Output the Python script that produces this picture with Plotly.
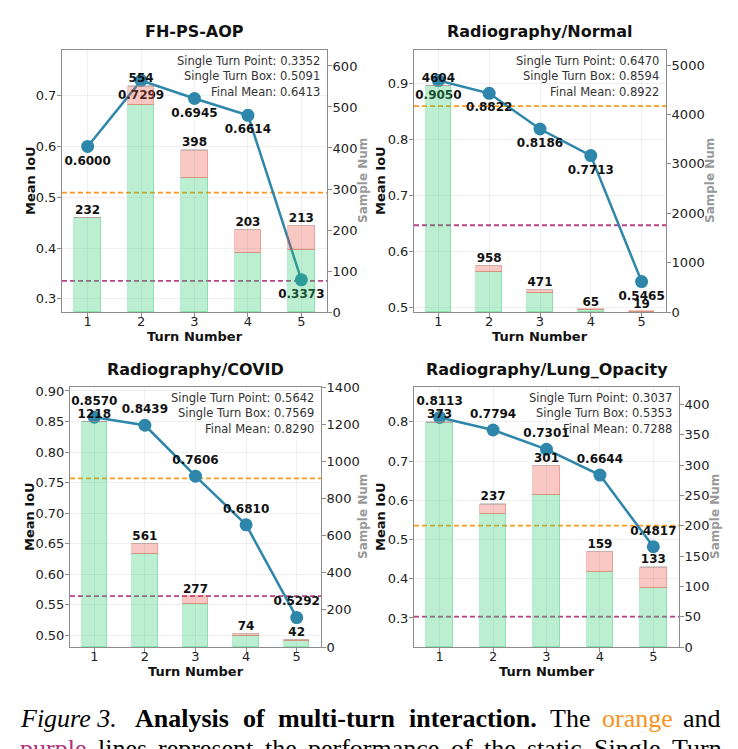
import plotly.graph_objects as go

W, H = 738, 749
turns = [1, 2, 3, 4, 5]

titles = ["FH-PS-AOP", "Radiography/Normal", "Radiography/COVID", "Radiography/Lung_Opacity"]

# Mean IoU per turn
fh_iou = [0.6000, 0.7299, 0.6945, 0.6614, 0.3373]
normal_iou = [0.9050, 0.8822, 0.8186, 0.7713, 0.5465]
covid_iou = [0.8570, 0.8439, 0.7606, 0.6810, 0.5292]
lung_iou = [0.8113, 0.7794, 0.7301, 0.6644, 0.4817]

# Sample numbers per turn (total), with green / pink portions
fh_total = [232, 554, 398, 203, 213]
fh_green = [229, 504, 328, 143, 151]
fh_pink = [0, 44, 64, 57, 59]

normal_total = [4604, 958, 471, 65, 19]
normal_green = [4570, 811, 392, 45, 5]
normal_pink = [0, 120, 60, 10, 8]

covid_total = [1218, 561, 277, 74, 42]
covid_green = [1212, 499, 231, 59, 30]
covid_pink = [0, 54, 42, 10, 8]

lung_total = [373, 237, 301, 159, 133]
lung_green = [370, 220, 251, 123, 98]
lung_pink = [0, 14, 47, 34, 32]

# Reference lines / summary
single_point = [0.3352, 0.6470, 0.5642, 0.3037]
single_box = [0.5091, 0.8594, 0.7569, 0.5353]
final_mean = [0.6413, 0.8922, 0.8290, 0.7288]

left_ticks = [
    [0.3, 0.4, 0.5, 0.6, 0.7],
    [0.5, 0.6, 0.7, 0.8, 0.9],
    [0.50, 0.55, 0.60, 0.65, 0.70, 0.75, 0.80, 0.85, 0.90],
    [0.3, 0.4, 0.5, 0.6, 0.7, 0.8],
]
left_fmt = [".1f", ".1f", ".2f", ".1f"]
right_ticks = [
    [0, 100, 200, 300, 400, 500, 600],
    [0, 1000, 2000, 3000, 4000, 5000],
    [0, 200, 400, 600, 800, 1000, 1200, 1400],
    [0, 50, 100, 150, 200, 250, 300, 350, 400],
]
label_pos = ["bottom center", "bottom center", "top center", "top center"]

# caption words (text, style)
caption_line1 = [("Figure 3.", "i"), ("Analysis", "b"), ("of", "b"), ("multi-turn", "b"),
                 ("interaction.", "b"), ("The", "n"), ("orange", "orange"), ("and", "n")]
caption_line2 = [("purple", "purple"), ("lines", "n"), ("represent", "n"), ("the", "n"),
                 ("performance", "n"), ("of", "n"), ("the", "n"), ("static", "n"),
                 ("Single", "n"), ("Turn", "n")]

ious = [fh_iou, normal_iou, covid_iou, lung_iou]
totals = [fh_total, normal_total, covid_total, lung_total]
greens = [fh_green, normal_green, covid_green, lung_green]
pinks = [fh_pink, normal_pink, covid_pink, lung_pink]

# layout geometry (pixels)
boxes = [(62, 327, 50, 312), (414, 666, 50, 312), (70, 321, 387, 647), (414, 679, 387, 647)]
left_ranges = [[0.274, 0.790], [0.4923, 0.9595], [0.481, 0.9065], [0.226, 0.889]]
right_ranges = [[0, 639], [0, 5304], [0, 1400], [0, 429]]
ylabel_x = [30, 380, 29, 380]
y2label_x = [363, 710, 363, 715]
cap1_x = [18, 133, 241, 276, 407, 548, 600, 681]
cap2_x = [18, 96, 156, 263, 306, 449, 482, 525, 592, 670]


def px(x):
    return x / W


def py(y):
    return 1 - y / H


FONT = "DejaVu Sans"
LINE = "#2E86AB"
GREEN = "rgba(46,204,113,0.32)"
PINK = "rgba(231,76,60,0.30)"
GRAY = "rgba(150,150,150,0.45)"
ORANGE = "#FF9A1A"
PURPLE = "#B8428C"
FRAME = "#8c8c8c"

fig = go.Figure()
layout = dict(
    width=W, height=H, margin=dict(l=0, r=0, t=0, b=0, pad=0, autoexpand=False),
    paper_bgcolor="white", plot_bgcolor="white",
    showlegend=False, barmode="stack", bargap=0.0,
    font=dict(family=FONT, size=13, color="#222"),
)
annotations = []
shapes = []

for i in range(4):
    x0, x1, y0, y1 = boxes[i]
    xa = "x" if i == 0 else f"x{i+1}"
    yl = "y" if i == 0 else f"y{2*i+1}"
    yr = f"y{2*i+2}"
    xkey = "xaxis" if i == 0 else f"xaxis{i+1}"
    ylkey = "yaxis" if i == 0 else f"yaxis{2*i+1}"
    yrkey = f"yaxis{2*i+2}"

    layout[xkey] = dict(
        domain=[px(x0), px(x1)], anchor=yl, range=[0.52, 5.48], automargin=False,
        tickvals=turns, ticktext=[str(t) for t in turns],
        showline=True, mirror=True, linecolor=FRAME, linewidth=1,
        ticks="outside", ticklen=4, tickcolor=FRAME, ticklabelstandoff=-7,
        showgrid=True, gridcolor="rgba(0,0,0,0.06)", zeroline=False,
        tickfont=dict(size=13, color="#222"),
    )
    layout[ylkey] = dict(
        domain=[py(y1), py(y0)], anchor=xa, range=left_ranges[i], automargin=False,
        tickvals=left_ticks[i], tickformat=left_fmt[i],
        showline=True, mirror=True, linecolor=FRAME, linewidth=1,
        ticks="outside", ticklen=4, tickcolor=FRAME, ticklabelstandoff=-2,
        showgrid=True, gridcolor="rgba(0,0,0,0.06)", zeroline=False,
        tickfont=dict(size=13, color="#222"),
    )
    layout[yrkey] = dict(
        overlaying=yl, anchor=xa, side="right", range=right_ranges[i], automargin=False,
        tickvals=right_ticks[i],
        showline=True, linecolor=FRAME, linewidth=1,
        ticks="outside", ticklen=4, tickcolor=FRAME, ticklabelstandoff=-2,
        showgrid=False, zeroline=False,
        tickfont=dict(size=13, color="#222"),
    )

    # IoU line on left axis
    fig.add_trace(go.Scatter(
        x=turns, y=ious[i], xaxis=xa, yaxis=yl,
        mode="lines+markers+text",
        line=dict(color=LINE, width=2.5),
        marker=dict(color=LINE, size=13),
        text=[f"{v:.4f}" for v in ious[i]], textposition=label_pos[i],
        textfont=dict(family=FONT, size=12, color="#111", weight="bold"),
        cliponaxis=False, hoverinfo="skip",
    ))

    gray = [t - g - p for t, g, p in zip(totals[i], greens[i], pinks[i])]
    fig.add_trace(go.Bar(x=turns, y=greens[i], xaxis=xa, yaxis=yr, width=0.5,
                         marker=dict(color=GREEN, line=dict(color="rgba(46,204,113,0.35)", width=1))))
    fig.add_trace(go.Bar(x=turns, y=pinks[i], xaxis=xa, yaxis=yr, width=0.5,
                         marker=dict(color=PINK, line=dict(color="rgba(231,76,60,0.35)", width=1))))
    fig.add_trace(go.Bar(x=turns, y=gray, xaxis=xa, yaxis=yr, width=0.5,
                         marker=dict(color=GRAY, line=dict(width=0))))
    fig.add_trace(go.Scatter(
        x=turns, y=totals[i], xaxis=xa, yaxis=yr, mode="text",
        text=[str(v) for v in totals[i]], textposition="top center",
        textfont=dict(family=FONT, size=12, color="#111", weight="bold"),
        cliponaxis=False, hoverinfo="skip",
    ))

    # reference dashed lines
    shapes.append(dict(type="line", xref=f"{xa} domain", yref=yl, x0=0, x1=1,
                       y0=single_box[i], y1=single_box[i], layer="below",
                       line=dict(color=ORANGE, width=1.8, dash="5px,3px")))
    shapes.append(dict(type="line", xref=f"{xa} domain", yref=yl, x0=0, x1=1,
                       y0=single_point[i], y1=single_point[i], layer="below",
                       line=dict(color=PURPLE, width=1.8, dash="5px,3px")))

    # title
    cx = (x0 + x1) / 2
    annotations.append(dict(text=f"<b>{titles[i]}</b>", x=px(cx), y=py(y0 - 18),
                            xref="paper", yref="paper", showarrow=False,
                            xanchor="center", yanchor="middle",
                            font=dict(family=FONT, size=16, color="#111")))
    # axis labels
    annotations.append(dict(text="<b>Turn Number</b>", x=px(cx), y=py(y1 + 24.5),
                            xref="paper", yref="paper", showarrow=False,
                            xanchor="center", yanchor="middle",
                            font=dict(family=FONT, size=13, color="#111")))
    annotations.append(dict(text="<b>Mean IoU</b>", x=px(ylabel_x[i]), y=py((y0 + y1) / 2),
                            xref="paper", yref="paper", showarrow=False, textangle=-90,
                            xanchor="center", yanchor="middle",
                            font=dict(family=FONT, size=13, color="#111")))
    annotations.append(dict(text="<b>Sample Num</b>", x=px(y2label_x[i]), y=py((y0 + y1) / 2),
                            xref="paper", yref="paper", showarrow=False, textangle=-90,
                            xanchor="center", yanchor="middle",
                            font=dict(family=FONT, size=12, color="#999")))
    # summary text
    lines = [f"Single Turn Point: {single_point[i]:.4f}",
             f"Single Turn Box: {single_box[i]:.4f}",
             f"Final Mean: {final_mean[i]:.4f}"]
    for t, off in zip(lines, [10.6, 26.4, 42.2]):
        annotations.append(dict(text=t, x=px(x1 - 5.5), y=py(y0 + off),
                                xref="paper", yref="paper", showarrow=False,
                                xanchor="right", yanchor="middle",
                                font=dict(family=FONT, size=11.5, color="#333")))

# caption (word-placed to mimic justified text)
SERIF = "Liberation Serif"
styles = {"i": lambda t: f"<i>{t}</i>", "b": lambda t: f"<b>{t}</b>", "n": lambda t: t,
          "orange": lambda t: f"<span style='color:#F7931E'>{t}</span>",
          "purple": lambda t: f"<span style='color:#B0307A'>{t}</span>"}
for words, xs, yc in [(caption_line1, cap1_x, 718.5), (caption_line2, cap2_x, 748)]:
    for (t, s), xw in zip(words, xs):
        annotations.append(dict(text=styles[s](t), x=px(xw), y=py(yc),
                                xref="paper", yref="paper", showarrow=False,
                                xanchor="left", yanchor="middle",
                                font=dict(family=SERIF, size=26, color="#000")))

layout["annotations"] = annotations
layout["shapes"] = shapes
fig.update_layout(**layout)
fig.write_html("out.html")
